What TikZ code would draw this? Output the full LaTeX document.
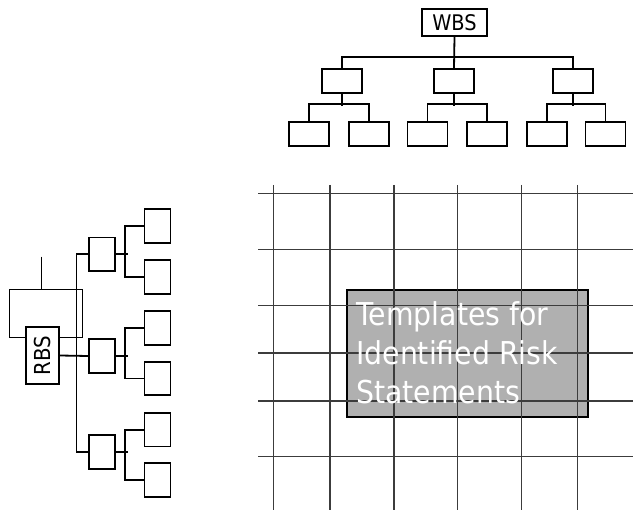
\documentclass[tikz,border=0pt]{standalone}
\usepackage{fontspec}
\setmainfont[FakeStretch=0.9]{DejaVu Sans}
\definecolor{gridc}{HTML}{3C3C3C}
\definecolor{boxgray}{HTML}{B0B0B0}
\definecolor{thin}{HTML}{808080}
\tikzset{
  bx/.style={draw=black, line width=1.8pt, fill=white, inner sep=0pt},
  wbox/.style={bx, minimum width=40pt, minimum height=24pt},
  rbox/.style={bx, minimum width=26pt, minimum height=33.5pt},
  conn/.style={draw=black, line width=1.8pt},
  gridl/.style={draw=gridc, line width=1.5pt},
}
\begin{document}
\begin{tikzpicture}[x=1pt,y=-1pt]
\useasboundingbox (0,0) rectangle (633,511);

% ---------- WBS tree ----------
\node[bx, minimum width=65pt, minimum height=27pt, font=\fontsize{21.5}{25}\selectfont] (wbs) at (454.5,22.5) {WBS};
\node[wbox] (m1) at (342,81.3) {};
\node[wbox] (m2) at (454,81.3) {};
\node[wbox] (m3) at (573,81.3) {};
\node[wbox] (l11) at (308.8,133.7) {};
\node[wbox] (l12) at (368.7,133.7) {};
\node[wbox] (l21) at (427.5,133.7) {};
\node[wbox] (l22) at (487.3,133.7) {};
\node[wbox] (l31) at (547,133.7) {};
\node[wbox] (l32) at (605.5,133.7) {};
\draw[conn] (wbs.south) -- (m2.north);
\draw[conn] (m1.north) -- ++(0,-11) -| (m3.north);
\foreach \m/\a/\b in {m1/l11/l12, m2/l21/l22, m3/l31/l32}{
  \draw[conn] (\m.south) -- ++(0,11.7);
  \draw[conn] (\a.north) -- ++(0,-16.7) -| (\b.north);
}

% ---------- RBS tree ----------
\draw[thin, line width=1.2pt] (9.3,289.3) rectangle (82.3,337.3);
\coordinate (tp) at (41.7,256.7);
\draw[thin, line width=1.2pt] (tp) -- (41.7,289.3);
\node[bx, rotate=90, minimum width=57pt, minimum height=33pt, font=\fontsize{22}{26}\selectfont] (rbs) at (42.5,355.5) {RBS};
\node[rbox] (r1) at (102,254.3) {};
\node[rbox] (r2) at (102,356) {};
\node[rbox] (r3) at (102,452) {};
\node[rbox] (q11) at (157.5,226) {};
\node[rbox] (q12) at (157.5,277) {};
\node[rbox] (q21) at (157.5,328) {};
\node[rbox] (q22) at (157.5,378.5) {};
\node[rbox] (q31) at (157.5,429.7) {};
\node[rbox] (q32) at (157.5,480) {};
\draw[conn] (rbs.south) -- (r2.west);
\draw[conn] (r1.west) -- ++(-11.7,0) |- (r3.west);
\foreach \m/\a/\b in {r1/q11/q12, r2/q21/q22, r3/q31/q32}{
  \draw[conn] (\m.east) -- ++(11.7,0);
  \draw[conn] (\a.west) -- ++(-18.3,0) |- (\b.west);
}

% ---------- Grid with template box ----------
\node[draw=black, line width=1.8pt, fill=boxgray, inner sep=0pt, anchor=north west,
      minimum width=240.7pt, minimum height=126.7pt] (tmpl) at (346,289) {};
\foreach \x in {273.3,330,394,457.7,521.7,577.7}{
  \draw[gridl] (\x,185) -- (\x,510);
}
\foreach \y in {193.3,249.3,305.3,353,401,456.7}{
  \draw[gridl] (258.3,\y) -- (633,\y);
}
\node[anchor=north west, inner sep=0pt, align=left, text=white,
      font=\fontsize{31.5}{39}\selectfont] (txt) at (356,301)
  {Templates for\\Identified Risk\\Statements};
\end{tikzpicture}
\end{document}
